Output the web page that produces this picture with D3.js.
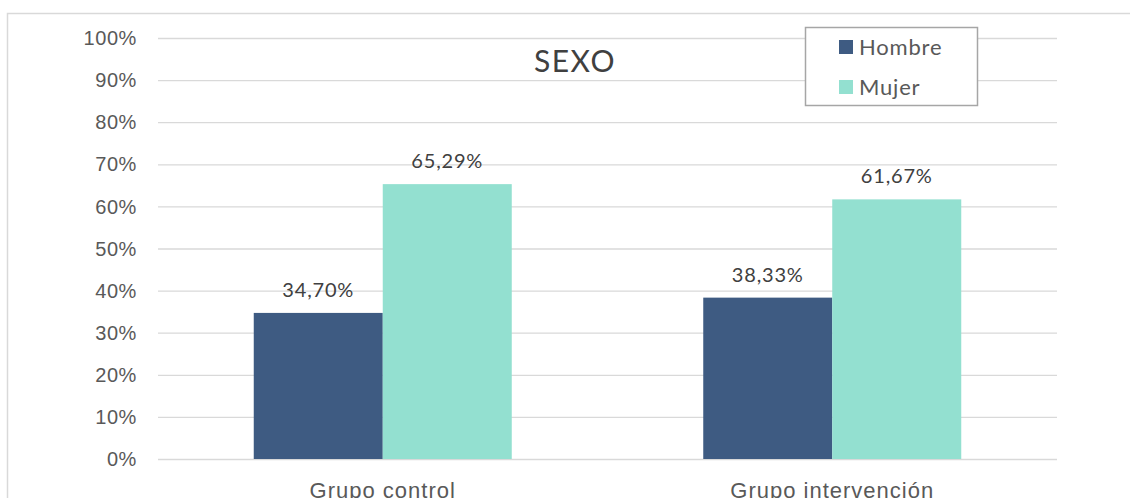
<!DOCTYPE html>
<html>
<head>
<meta charset="utf-8">
<script src="https://cdn.jsdelivr.net/npm/d3@7"></script>
<style>
  html, body { margin: 0; padding: 0; background: #fff; }
  svg { display: block; font-family: "Lato", "Open Sans", sans-serif; }
</style>
</head>
<body>
<svg id="chart" width="1130" height="498"></svg>
<script>
// Grouped bar chart: sex distribution per study group
const groups = ["Grupo control", "Grupo intervención"];
const seriesNames = ["Hombre", "Mujer"];
const hombre = [34.70, 38.33];
const mujer = [65.29, 61.67];
const yTicks = [0, 10, 20, 30, 40, 50, 60, 70, 80, 90, 100];
const colors = ["#3E5B82", "#93E0D0"];

const svg = d3.select("#chart");
const textColor = "#595959";

// outer frame
svg.append("rect")
  .attr("x", 7.5).attr("y", 13.5)
  .attr("width", 1140).attr("height", 500)
  .attr("fill", "#fff").attr("stroke", "#d9d9d9").attr("stroke-width", 1.5);

const plot = { left: 158, right: 1057, top: 38, bottom: 459 };

const x0 = d3.scaleBand().domain(groups).range([plot.left, plot.right]).paddingInner(0).paddingOuter(0);
const x1 = d3.scaleBand().domain(seriesNames).range([0, 258]);
const y = d3.scaleLinear().domain([0, 100]).range([plot.bottom, plot.top]);

// gridlines
svg.append("g").selectAll("line").data(yTicks).join("line")
  .attr("x1", plot.left).attr("x2", plot.right)
  .attr("y1", d => y(d) + 0.5).attr("y2", d => y(d) + 0.5)
  .attr("stroke", "#d9d9d9").attr("stroke-width", 1.3);

// y axis labels
const yAxis = d3.axisLeft(y).tickValues(yTicks).tickFormat(d => d + "%").tickSize(0).tickPadding(21);
const ya = svg.append("g").attr("transform", `translate(${plot.left},0)`).call(yAxis);
ya.select(".domain").remove();
ya.selectAll("text").attr("fill", textColor).style("font-size", "20px")
  .style("letter-spacing", "0.6px").attr("dy", "0.33em");

const rows = groups.map((g, i) => ({ group: g, values: [hombre[i], mujer[i]] }));

const gGroups = svg.append("g").selectAll("g").data(rows).join("g")
  .attr("transform", d => `translate(${x0(d.group) + (x0.bandwidth() - 258) / 2},0)`);

gGroups.selectAll("rect").data(d => d.values.map((v, j) => ({ key: seriesNames[j], v, j }))).join("rect")
  .attr("x", d => x1(d.key))
  .attr("width", x1.bandwidth())
  .attr("y", d => y(d.v))
  .attr("height", d => y(0) - y(d.v))
  .attr("fill", d => colors[d.j]);

gGroups.selectAll("text").data(d => d.values.map((v, j) => ({ key: seriesNames[j], v }))).join("text")
  .attr("x", d => x1(d.key) + x1.bandwidth() / 2)
  .attr("y", d => y(d.v) - 16)
  .attr("text-anchor", "middle")
  .attr("fill", "#404040")
  .style("font-size", "20px")
  .style("letter-spacing", "0.8px")
  .text(d => d.v.toFixed(2).replace(".", ",") + "%");

// category axis
const xAxis = d3.axisBottom(x0).tickSize(0).tickPadding(23);
const xa = svg.append("g").attr("transform", `translate(0,${plot.bottom})`).call(xAxis);
xa.select(".domain").remove();
xa.selectAll("text").attr("fill", textColor).style("font-size", "22px").style("letter-spacing", "1px");

// title
svg.append("text")
  .attr("x", 575).attr("y", 72)
  .attr("text-anchor", "middle")
  .attr("fill", "#404040")
  .style("font-size", "30px")
  .style("letter-spacing", "1.5px")
  .text("SEXO");

// legend
const lg = svg.append("g").attr("transform", "translate(805,27)");
lg.append("rect").attr("x", 0.5).attr("y", 0.5).attr("width", 172).attr("height", 78)
  .attr("fill", "#fff").attr("stroke", "#a6a6a6").attr("stroke-width", 1.5);
seriesNames.forEach((name, i) => {
  lg.append("rect").attr("x", 34).attr("y", 13 + i * 40).attr("width", 14).attr("height", 14).attr("fill", colors[i]);
  lg.append("text").attr("x", 54).attr("y", 20 + i * 40).attr("dy", "0.35em")
    .attr("fill", textColor).style("font-size", "22px").style("letter-spacing", "0.8px").text(name);
});
</script>
</body>
</html>
